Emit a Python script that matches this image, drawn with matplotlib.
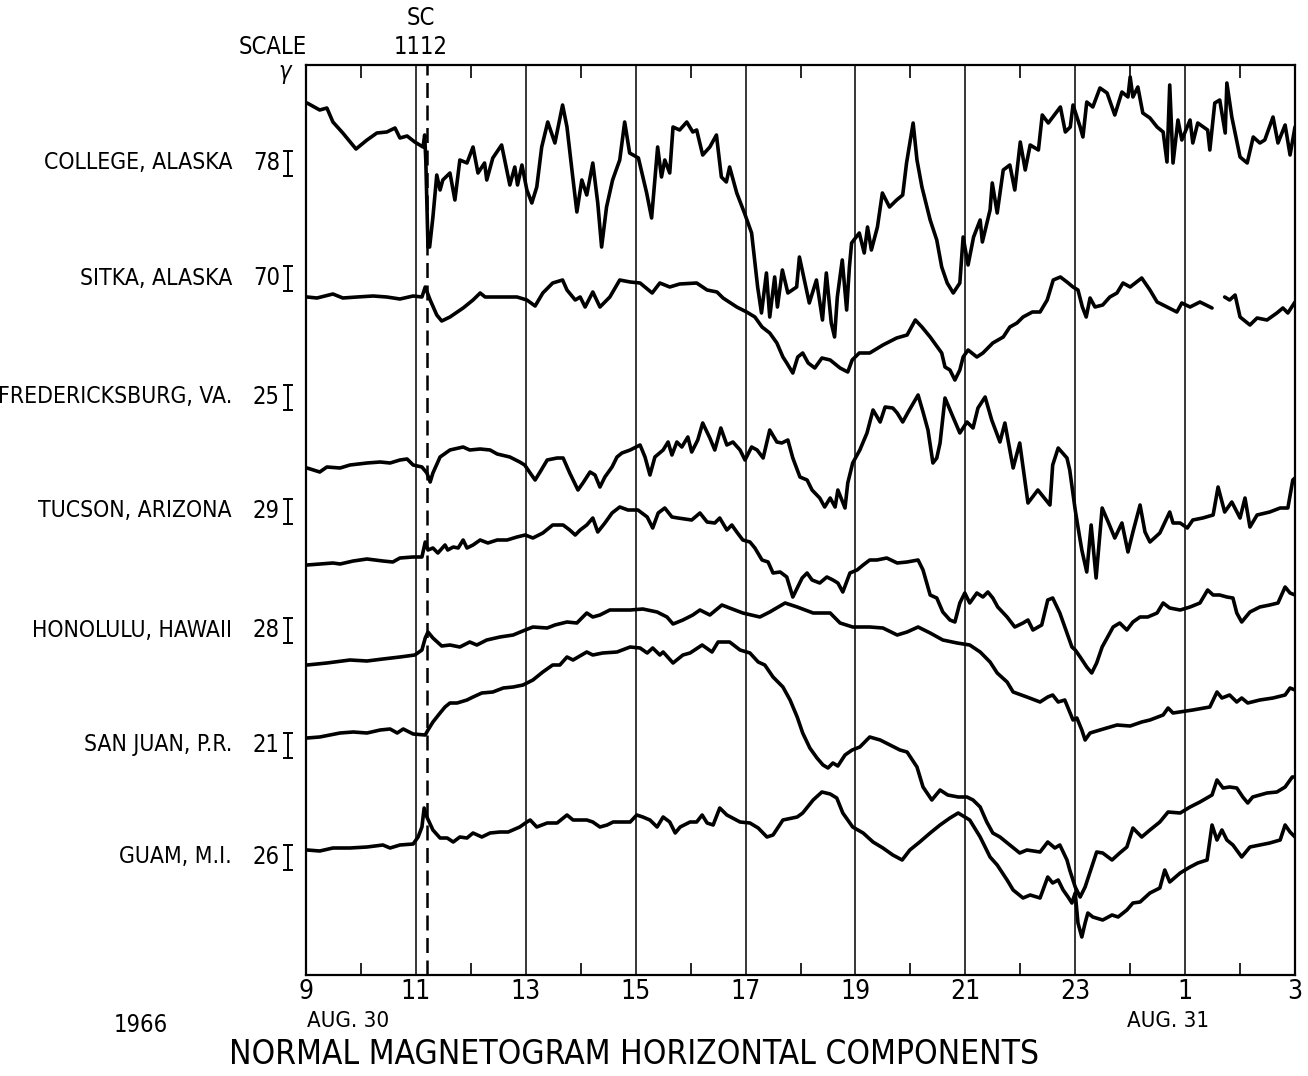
import os
import matplotlib
matplotlib.use("Agg")
import matplotlib.pyplot as plt
from matplotlib import font_manager as fm
import numpy as np

W, H = 1308, 1076

# pick a narrow lettering face if one is installed
def pick_font():
    cands = [("Liberation Sans Narrow", "normal"), ("DejaVu Sans", "condensed"),
             ("Noto Sans", "condensed"), ("Open Sans", "condensed"), ("Roboto", "condensed")]
    for fam, st in cands:
        try:
            p = fm.findfont(fm.FontProperties(family=fam, stretch=st), fallback_to_default=False)
        except Exception:
            continue
        n = os.path.basename(p).lower()
        if "narrow" in n or "condensed" in n:
            return fam, st, 1.0
    return "Liberation Sans", "normal", 0.86

FAM, STRETCH, K = pick_font()
plt.rcParams["font.family"] = [FAM, "DejaVu Sans"]
plt.rcParams["font.stretch"] = STRETCH

# ---------------- data ----------------
stations = ["COLLEGE, ALASKA", "SITKA, ALASKA", "FREDERICKSBURG, VA.", "TUCSON, ARIZONA",
            "HONOLULU, HAWAII", "SAN JUAN, P.R.", "GUAM, M.I."]
scales = ["78", "70", "25", "29", "28", "21", "26"]
label_levels = [163, 278, 397, 511, 630, 745, 857]   # trace-level of each label row
tick_hours = [9, 11, 13, 15, 17, 19, 21, 23, 25, 27]
tick_labels = ["9", "11", "13", "15", "17", "19", "21", "23", "1", "3"]
sc_hour = 11.2   # SC 11:12 UT

# (UT hour from 09 Aug 30, trace level; larger = lower on chart)
college = [(9.02,103),(9.25,110),(9.38,108),(9.49,122),(9.67,133),(9.91,149),(10.11,140),(10.29,133),
 (10.47,132),(10.62,128),(10.71,138),(10.84,136),(10.98,142),(11.13,147),(11.16,135),(11.18,160),
 (11.22,247),(11.25,247),(11.31,217),(11.38,175),(11.44,190),(11.49,180),(11.62,173),(11.71,200),
 (11.80,160),(11.93,163),(12.04,147),(12.13,173),(12.25,163),(12.29,180),(12.40,158),(12.56,145),
 (12.71,185),(12.80,167),(12.85,185),(12.93,165),(13.02,190),(13.11,203),(13.20,187),(13.29,147),
 (13.40,122),(13.53,143),(13.67,105),(13.75,127),(13.84,170),(13.93,212),(14.02,180),(14.11,195),
 (14.22,163),(14.31,203),(14.38,247),(14.47,207),(14.58,180),(14.71,160),(14.80,122),(14.89,153),
 (15.05,158),(15.20,193),(15.29,218),(15.40,147),(15.47,177),(15.53,160),(15.62,173),(15.68,127),
 (15.80,130),(15.93,122),(16.04,132),(16.11,130),(16.22,155),(16.35,147),(16.47,135),(16.56,177),
 (16.65,182),(16.71,167),(16.84,193),(16.98,213),(17.11,233),(17.22,287),(17.29,313),(17.38,273),
 (17.44,317),(17.53,277),(17.58,307),(17.67,270),(17.77,293),(17.93,287),(17.98,257),(18.07,280),
 (18.16,303),(18.29,280),(18.40,320),(18.47,273),(18.56,323),(18.62,337),(18.67,297),(18.76,260),
 (18.84,310),(18.89,267),(18.93,243),(19.07,233),(19.16,253),(19.22,227),(19.29,250),(19.40,227),
 (19.49,193),(19.62,207),(19.75,200),(19.86,195),(19.93,163),(20.05,123),(20.12,160),(20.21,187),
 (20.36,220),(20.48,240),(20.57,267),(20.67,283),(20.78,293),(20.90,283),(20.96,237),(21.05,265),
 (21.15,237),(21.27,220),(21.31,242),(21.45,210),(21.49,183),(21.58,213),(21.69,170),(21.81,165),
 (21.90,190),(22.00,142),(22.09,170),(22.18,145),(22.33,150),(22.40,115),(22.51,123),(22.73,107),
 (22.82,132),(22.91,127),(22.96,105),(23.09,127),(23.14,137),(23.21,102),(23.32,107),(23.45,88),
 (23.58,93),(23.72,115),(23.85,92),(23.96,97),(24.00,77),(24.05,97),(24.14,87),(24.23,113),
 (24.36,118),(24.49,127),(24.60,132),(24.67,162),(24.72,85),(24.78,163),(24.87,120),(24.94,140),
 (25.09,120),(25.14,143),(25.23,123),(25.41,130),(25.45,150),(25.54,103),(25.63,100),(25.73,133),
 (25.76,83),(25.85,117),(26.00,157),(26.13,163),(26.24,137),(26.36,143),(26.45,140),(26.60,117),
 (26.69,143),(26.82,125),(26.91,155),(27.00,127)]

sitka = [(9.02,297),(9.20,298),(9.49,294),(9.67,298),(9.93,297),(10.22,296),(10.47,297),(10.71,299),
 (10.95,296),(11.11,297),(11.17,287),(11.26,300),(11.38,315),(11.47,321),(11.62,317),(11.86,308),
 (12.04,300),(12.17,293),(12.26,297),(12.53,297),(12.84,297),(13.02,300),(13.17,306),(13.31,293),
 (13.49,283),(13.67,280),(13.75,290),(13.90,300),(13.99,297),(14.08,307),(14.22,292),(14.35,307),
 (14.53,297),(14.71,280),(14.90,282),(15.08,283),(15.30,293),(15.44,283),(15.62,287),(15.80,284),
 (16.11,283),(16.30,290),(16.48,292),(16.59,298),(16.84,307),(17.02,312),(17.17,317),(17.30,327),
 (17.44,333),(17.57,343),(17.68,357),(17.75,363),(17.86,373),(17.95,357),(18.04,353),(18.14,363),
 (18.26,368),(18.39,358),(18.54,360),(18.72,368),(18.86,372),(18.94,360),(19.07,353),(19.26,353),
 (19.50,345),(19.75,338),(19.94,335),(20.09,320),(20.21,327),(20.36,337),(20.57,353),(20.63,367),
 (20.72,370),(20.81,380),(20.90,370),(20.96,357),(21.05,350),(21.21,357),(21.32,353),(21.50,343),
 (21.69,337),(21.81,327),(21.94,323),(22.05,317),(22.22,312),(22.36,312),(22.49,300),(22.60,280),
 (22.73,277),(22.85,282),(22.96,287),(23.05,290),(23.13,307),(23.20,317),(23.27,298),(23.36,307),
 (23.50,305),(23.63,297),(23.76,293),(23.87,283),(24.00,287),(24.21,278),(24.36,290),(24.49,302),
 (24.60,305),(24.85,312),(24.94,303),(25.09,307),(25.27,302),(25.49,308),(25.60,np.nan),
 (25.72,297),(25.81,300),(25.91,295),(26.00,317),(26.18,325),(26.31,318),(26.49,320),(26.67,313),
 (26.78,308),(26.87,313),(27.00,302)]

fredericksburg = [(9.02,468),(9.25,472),(9.38,467),(9.62,468),(9.80,465),(10.11,463),(10.35,462),
 (10.53,463),(10.71,460),(10.84,459),(10.95,465),(11.11,467),(11.20,473),(11.26,482),(11.31,473),
 (11.44,457),(11.62,450),(11.86,447),(11.98,450),(12.17,449),(12.35,450),(12.48,454),(12.71,457),
 (12.89,462),(12.98,465),(13.08,473),(13.17,480),(13.26,472),(13.39,460),(13.57,458),(13.68,458),
 (13.80,473),(13.95,490),(14.04,483),(14.17,472),(14.26,475),(14.35,487),(14.44,477),(14.57,467),
 (14.66,457),(14.75,453),(14.90,450),(15.08,445),(15.17,457),(15.26,475),(15.35,457),(15.50,450),
 (15.59,442),(15.66,455),(15.75,442),(15.84,447),(15.95,437),(16.02,452),(16.13,440),(16.22,423),
 (16.35,438),(16.44,450),(16.55,428),(16.66,445),(16.77,442),(16.90,450),(16.99,460),(17.11,447),
 (17.21,450),(17.32,458),(17.44,430),(17.57,442),(17.66,443),(17.77,440),(17.86,458),(17.99,477),
 (18.12,480),(18.21,490),(18.35,498),(18.44,507),(18.54,498),(18.63,507),(18.68,490),(18.81,508),
 (18.86,483),(18.95,463),(19.08,450),(19.21,433),(19.32,410),(19.45,422),(19.54,407),(19.68,408),
 (19.76,413),(19.86,422),(19.96,412),(20.14,395),(20.23,412),(20.32,430),(20.41,463),(20.48,458),
 (20.54,443),(20.63,398),(20.76,415),(20.90,433),(21.03,422),(21.14,428),(21.23,408),(21.36,397),
 (21.48,420),(21.63,442),(21.72,423),(21.87,468),(21.99,443),(22.14,503),(22.32,490),(22.54,505),
 (22.59,465),(22.69,448),(22.85,458),(22.90,470),(23.00,510),(23.05,527),(23.12,550),(23.21,572),
 (23.29,525),(23.38,578),(23.49,508),(23.60,522),(23.72,538),(23.85,523),(23.96,552),(24.05,532),
 (24.18,505),(24.27,532),(24.36,542),(24.54,533),(24.72,512),(24.78,523),(24.91,523),(25.04,528),
 (25.14,520),(25.32,518),(25.51,515),(25.60,487),(25.72,512),(25.85,502),(26.00,518),(26.09,498),
 (26.18,527),(26.31,515),(26.54,512),(26.73,508),(26.87,508),(26.96,480),(27.00,478)]

tucson = [(9.02,565),(9.25,564),(9.49,563),(9.62,564),(9.86,561),(10.11,559),(10.40,561),(10.58,562),
 (10.71,558),(10.95,557),(11.11,557),(11.17,542),(11.22,550),(11.31,548),(11.40,553),(11.53,545),
 (11.58,550),(11.68,547),(11.77,548),(11.86,540),(11.93,548),(12.04,545),(12.17,540),(12.31,543),
 (12.48,540),(12.66,540),(12.84,537),(12.99,535),(13.13,538),(13.31,533),(13.49,525),(13.68,525),
 (13.80,530),(13.90,535),(13.99,530),(14.11,525),(14.22,518),(14.31,532),(14.44,523),(14.57,513),
 (14.71,507),(14.86,510),(15.04,510),(15.21,517),(15.31,528),(15.41,513),(15.53,508),(15.66,517),
 (15.77,518),(16.02,520),(16.17,513),(16.30,522),(16.44,523),(16.53,518),(16.66,530),(16.75,525),
 (16.84,532),(16.95,540),(17.08,542),(17.17,548),(17.30,560),(17.41,562),(17.50,573),(17.63,572),
 (17.75,577),(17.86,597),(17.94,588),(18.03,578),(18.12,573),(18.21,580),(18.35,583),(18.48,577),
 (18.59,580),(18.68,583),(18.77,592),(18.90,573),(19.03,570),(19.14,565),(19.26,560),(19.39,560),
 (19.57,558),(19.76,563),(19.94,562),(20.14,560),(20.23,570),(20.36,595),(20.48,598),(20.59,612),
 (20.72,620),(20.81,622),(20.90,603),(20.99,593),(21.08,603),(21.21,593),(21.32,597),(21.41,592),
 (21.50,598),(21.59,607),(21.76,617),(21.90,627),(22.05,623),(22.14,620),(22.23,630),(22.39,625),
 (22.50,600),(22.59,598),(22.72,613),(22.85,633),(22.94,647),(23.00,650),(23.09,657),(23.21,667),
 (23.30,673),(23.39,663),(23.49,647),(23.58,638),(23.69,627),(23.81,623),(23.94,630),(24.05,622),
 (24.18,617),(24.32,617),(24.49,613),(24.60,603),(24.72,608),(24.91,610),(25.09,607),(25.27,603),
 (25.41,590),(25.51,595),(25.63,595),(25.76,597),(25.87,598),(25.94,613),(26.03,622),(26.18,612),
 (26.36,607),(26.54,605),(26.69,603),(26.82,587),(26.91,593),(27.00,595)]

honolulu = [(9.02,665),(9.38,663),(9.80,660),(10.11,661),(10.40,659),(10.71,657),(10.98,655),
 (11.11,650),(11.17,638),(11.22,632),(11.31,638),(11.47,646),(11.62,645),(11.80,647),(11.98,642),
 (12.11,645),(12.29,640),(12.53,637),(12.77,635),(12.99,630),(13.13,627),(13.39,628),(13.53,625),
 (13.75,622),(13.93,623),(14.11,613),(14.22,617),(14.35,615),(14.53,610),(14.71,610),(14.90,610),
 (15.13,609),(15.39,612),(15.57,617),(15.68,624),(15.86,620),(16.04,615),(16.17,610),(16.35,615),
 (16.57,605),(16.71,608),(16.95,613),(17.26,617),(17.44,612),(17.72,603),(17.94,607),(18.23,613),
 (18.54,613),(18.72,623),(18.95,627),(19.26,627),(19.50,628),(19.76,635),(19.94,632),(20.14,627),
 (20.36,633),(20.59,640),(20.85,643),(21.08,645),(21.27,652),(21.45,662),(21.58,673),(21.76,682),
 (21.87,692),(22.12,697),(22.36,702),(22.50,697),(22.59,695),(22.69,702),(22.81,700),(22.90,712),
 (22.96,720),(23.03,718),(23.12,730),(23.18,740),(23.27,733),(23.45,730),(23.76,725),(24.00,726),
 (24.21,722),(24.36,720),(24.60,715),(24.69,708),(24.78,713),(25.14,710),(25.45,707),(25.58,692),
 (25.67,698),(25.81,695),(25.94,702),(26.03,698),(26.14,703),(26.36,700),(26.60,698),(26.82,695),
 (26.91,688),(27.00,690)]

san_juan = [(9.02,738),(9.25,737),(9.62,733),(9.86,732),(10.11,733),(10.35,730),(10.53,729),
 (10.66,733),(10.77,729),(10.95,734),(11.17,735),(11.22,730),(11.31,722),(11.44,713),(11.53,707),
 (11.62,703),(11.75,703),(11.93,700),(12.04,697),(12.20,693),(12.40,692),(12.59,688),(12.77,687),
 (12.95,685),(13.13,680),(13.31,672),(13.49,665),(13.62,665),(13.75,657),(13.86,660),(14.11,652),
 (14.22,655),(14.40,653),(14.66,652),(14.90,647),(15.08,648),(15.21,653),(15.31,648),(15.44,655),
 (15.50,652),(15.68,663),(15.86,655),(15.99,653),(16.21,645),(16.39,652),(16.50,642),(16.71,642),
 (16.90,650),(17.08,653),(17.23,662),(17.35,665),(17.50,677),(17.68,687),(17.81,700),(17.94,717),
 (18.04,733),(18.17,748),(18.30,758),(18.41,765),(18.50,768),(18.59,763),(18.68,766),(18.81,755),
 (18.94,750),(19.08,747),(19.26,737),(19.45,740),(19.63,745),(19.81,750),(19.94,752),(20.12,767),
 (20.23,787),(20.39,800),(20.54,790),(20.68,795),(20.87,797),(21.03,797),(21.14,800),(21.27,807),
 (21.39,822),(21.50,833),(21.63,837),(21.81,845),(21.99,853),(22.12,850),(22.36,852),(22.50,842),
 (22.63,848),(22.72,845),(22.85,860),(22.90,870),(23.00,887),(23.09,897),(23.18,887),(23.30,867),
 (23.39,852),(23.50,853),(23.67,860),(23.81,853),(23.94,847),(24.05,828),(24.21,837),(24.36,830),
 (24.54,822),(24.69,812),(24.91,813),(25.09,807),(25.27,802),(25.49,795),(25.58,780),(25.69,788),
 (25.81,787),(25.94,788),(26.05,797),(26.14,803),(26.23,797),(26.49,793),(26.67,792),(26.82,787),
 (26.95,777),(27.00,777)]

guam = [(9.02,850),(9.25,851),(9.49,848),(9.80,848),(10.11,847),(10.40,845),(10.53,848),(10.71,845),
 (10.95,844),(11.04,837),(11.11,827),(11.15,808),(11.20,817),(11.31,830),(11.44,838),(11.57,838),
 (11.68,842),(11.80,837),(11.93,838),(12.04,833),(12.20,837),(12.35,833),(12.53,832),(12.68,832),
 (12.89,827),(13.02,822),(13.08,820),(13.20,827),(13.39,823),(13.57,823),(13.75,815),(13.86,820),
 (14.11,820),(14.22,822),(14.35,827),(14.48,825),(14.59,822),(14.71,822),(14.90,822),(15.02,815),
 (15.13,817),(15.26,820),(15.39,827),(15.50,817),(15.62,822),(15.72,833),(15.81,827),(15.99,822),
 (16.11,822),(16.21,815),(16.30,823),(16.41,825),(16.53,808),(16.66,815),(16.90,822),(17.08,823),
 (17.23,828),(17.39,837),(17.50,835),(17.68,820),(17.94,817),(18.04,813),(18.23,800),(18.39,792),
 (18.54,794),(18.66,798),(18.77,813),(18.95,827),(19.14,833),(19.32,842),(19.50,848),(19.68,855),
 (19.85,860),(19.99,850),(20.17,842),(20.36,833),(20.54,825),(20.72,818),(20.87,813),(21.08,820),
 (21.27,837),(21.45,857),(21.58,865),(21.76,880),(21.87,890),(22.05,898),(22.18,895),(22.36,898),
 (22.50,877),(22.59,883),(22.69,880),(22.78,890),(22.87,897),(22.94,903),(23.00,893),(23.05,923),
 (23.12,937),(23.18,923),(23.23,913),(23.32,917),(23.50,920),(23.67,915),(23.78,917),(23.94,910),
 (24.05,903),(24.18,902),(24.36,893),(24.54,888),(24.63,870),(24.72,882),(24.91,873),(25.09,867),
 (25.23,863),(25.40,860),(25.49,825),(25.58,840),(25.67,830),(25.76,840),(25.87,845),(26.03,857),
 (26.18,847),(26.36,845),(26.54,843),(26.73,840),(26.82,825),(26.91,832),(27.00,837)]

traces = [college, sitka, fredericksburg, tucson, honolulu, san_juan, guam]

# ---------------- figure ----------------
fig = plt.figure(figsize=(W / 100, H / 100), dpi=100)
fig.patch.set_facecolor("white")
L, R, T, B = 306, 1295, 65, 975
ax = fig.add_axes([L / W, 1 - B / H, (R - L) / W, (B - T) / H])
ax.set_xlim(9, 27)
ax.set_ylim(B, T)

for tr in traces:
    t = [p[0] for p in tr]
    v = [p[1] for p in tr]
    ax.plot(t, v, color="black", lw=2.6, solid_joinstyle="round", solid_capstyle="round")

for h in tick_hours[1:-1]:
    ax.axvline(h, color="black", lw=1.1)
ax.axvline(sc_hour, color="black", lw=1.8, ls=(0, (6, 3)))

for s in ax.spines.values():
    s.set_linewidth(1.6)

ax.set_yticks([])
ax.set_xticks(tick_hours)
ax.set_xticklabels(tick_labels, fontsize=19 * K)
ax.set_xticks(np.arange(10, 27, 2), minor=True)
ax.tick_params(axis="x", which="major", direction="in", length=0, pad=3)
ax.tick_params(axis="x", which="minor", direction="in", length=9, width=1.2, top=True, bottom=True)

def ftext(x, y, s, size, **kw):
    fig.text(x / W, 1 - y / H, s, fontsize=size * K, **kw)

for name, sc, lv in zip(stations, scales, label_levels):
    ftext(232, lv, name, 16.5, ha="right", va="center")
    ftext(280, lv, sc, 17, ha="right", va="center")
    # scale bar
    ax.plot([8.67, 8.67], [lv - 12, lv + 13], color="black", lw=1.4, clip_on=False)
    for yy in (lv - 12, lv + 13):
        ax.plot([8.60, 8.74], [yy, yy], color="black", lw=1.4, clip_on=False)

ftext(273, 47, "SCALE", 17, ha="center", va="center")
ftext(285, 72, "γ", 17, ha="center", va="center", style="italic")
ftext(421, 18, "SC", 17, ha="center", va="center")
ftext(421, 47, "1112", 17, ha="center", va="center")
ftext(141, 1025, "1966", 17, ha="center", va="center")
ftext(307, 1021, "AUG. 30", 16, ha="left", va="center")
ftext(1127, 1021, "AUG. 31", 16, ha="left", va="center")
ftext(634, 1055, "NORMAL MAGNETOGRAM HORIZONTAL COMPONENTS", 24, ha="center", va="center")

fig.savefig("out.png", dpi=100, facecolor="white")
